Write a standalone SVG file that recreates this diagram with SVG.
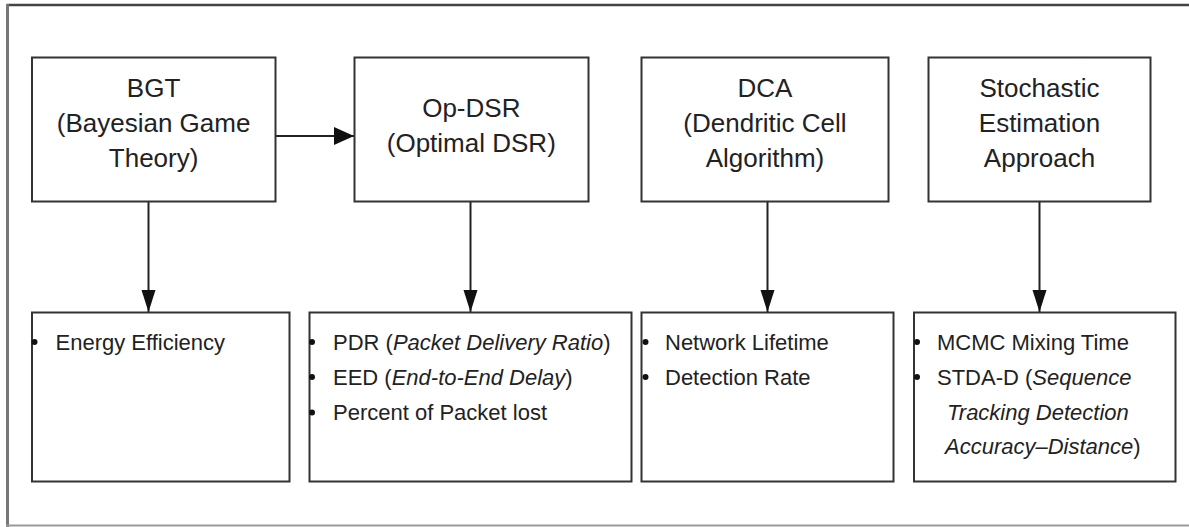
<svg xmlns="http://www.w3.org/2000/svg" width="1189" height="527" viewBox="0 0 1189 527">
<defs>
<style>
.box{fill:#fff;stroke:#333;stroke-width:2}
.t{font-family:"Liberation Sans",Arial,sans-serif;font-size:26px;fill:#222;text-anchor:middle}
.b{font-family:"Liberation Sans",Arial,sans-serif;font-size:22px;fill:#222}
.conn{stroke:#222;stroke-width:2;fill:none}
.dot{fill:#111}
</style>
<marker id="ahd" markerUnits="userSpaceOnUse" markerWidth="14" markerHeight="22" refX="7" refY="22" orient="auto-start-reverse" viewBox="0 0 14 22">
<path d="M0,0 L14,0 L7,22 Z" fill="#111"/>
</marker>
<marker id="ahr" markerUnits="userSpaceOnUse" markerWidth="20" markerHeight="18" refX="20" refY="9" viewBox="0 0 20 18">
<path d="M0,0 L20,9 L0,18 Z" fill="#111"/>
</marker>
</defs>
<rect width="1189" height="527" fill="#fff"/>
<g id="frame">
<line x1="7" y1="5" x2="1189" y2="5" stroke="#444" stroke-width="2.5"/>
<line x1="7.5" y1="4" x2="7.5" y2="527" stroke="#777" stroke-width="3"/>
<line x1="6" y1="525.5" x2="1189" y2="525.5" stroke="#999" stroke-width="2"/>
</g>
<g id="connectors">
<line class="conn" x1="276" y1="136" x2="354" y2="136" marker-end="url(#ahr)"/>
<path class="conn" d="M148.5,201.5 V312" style="stroke-width:2"/>
<path d="M141.5,290 L155.5,290 L148.5,312 Z" fill="#111"/>
<path class="conn" d="M470.5,201.5 V312"/>
<path d="M463.5,290 L477.5,290 L470.5,312 Z" fill="#111"/>
<path class="conn" d="M767.5,201.5 V312"/>
<path d="M760.5,290 L774.5,290 L767.5,312 Z" fill="#111"/>
<path class="conn" d="M1039.5,201.5 V312"/>
<path d="M1032.5,290 L1046.5,290 L1039.5,312 Z" fill="#111"/>
</g>
<g id="node-bgt">
<rect class="box" x="32" y="57.5" width="243.5" height="144"/>
<text class="t" x="153.6" y="97">BGT</text>
<text class="t" x="153.6" y="132">(Bayesian Game</text>
<text class="t" x="153.6" y="167">Theory)</text>
</g>
<g id="node-opdsr">
<rect class="box" x="354.5" y="57.5" width="234" height="144"/>
<text class="t" x="471.3" y="117">Op-DSR</text>
<text class="t" x="471.3" y="152">(Optimal DSR)</text>
</g>
<g id="node-dca">
<rect class="box" x="641.5" y="57.5" width="247" height="144"/>
<text class="t" x="765" y="97">DCA</text>
<text class="t" x="765" y="132">(Dendritic Cell</text>
<text class="t" x="765" y="167">Algorithm)</text>
</g>
<g id="node-stochastic">
<rect class="box" x="928.5" y="57.5" width="222" height="144"/>
<text class="t" x="1039.5" y="97">Stochastic</text>
<text class="t" x="1039.5" y="132">Estimation</text>
<text class="t" x="1039.5" y="167">Approach</text>
</g>
<g id="node-bgt-metrics">
<rect class="box" x="32" y="312.5" width="257.5" height="169"/>
<circle class="dot" cx="34.5" cy="342" r="3"/>
<text class="b" x="55.5" y="349.5">Energy Efficiency</text>
</g>
<g id="node-opdsr-metrics">
<rect class="box" x="309.5" y="312.5" width="322" height="169"/>
<circle class="dot" cx="312" cy="342" r="3"/>
<circle class="dot" cx="312" cy="377" r="3"/>
<circle class="dot" cx="312" cy="412.5" r="3"/>
<text class="b" x="333" y="349.5">PDR (<tspan font-style="italic">Packet Delivery Ratio</tspan>)</text>
<text class="b" x="333" y="384.5">EED (<tspan font-style="italic">End-to-End Delay</tspan>)</text>
<text class="b" x="333" y="420">Percent of Packet lost</text>
</g>
<g id="node-dca-metrics">
<rect class="box" x="641.5" y="312.5" width="252" height="169"/>
<circle class="dot" cx="645.5" cy="342" r="3"/>
<circle class="dot" cx="645.5" cy="377" r="3"/>
<text class="b" x="665" y="349.5">Network Lifetime</text>
<text class="b" x="665" y="384.5">Detection Rate</text>
</g>
<g id="node-stochastic-metrics">
<rect class="box" x="914" y="312.5" width="261.5" height="169"/>
<circle class="dot" cx="917" cy="342" r="3"/>
<circle class="dot" cx="917" cy="377" r="3"/>
<text class="b" x="937" y="349.5">MCMC Mixing Time</text>
<text class="b" x="937" y="384.5">STDA-D (<tspan font-style="italic">Sequence</tspan></text>
<text class="b" x="947" y="419.5" font-style="italic">Tracking Detection</text>
<text class="b" x="945" y="453.5"><tspan font-style="italic">Accuracy–Distance</tspan>)</text>
</g>
</svg>
